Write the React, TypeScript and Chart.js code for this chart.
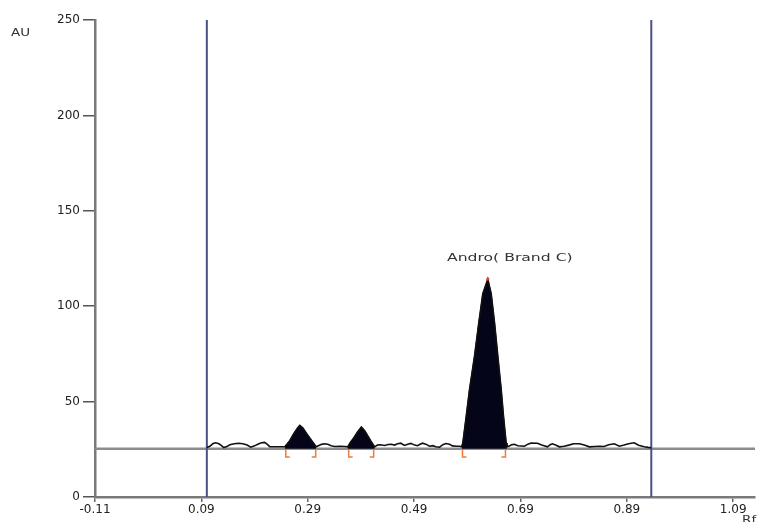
import React, { useEffect, useRef } from "react";
import { Chart, registerables } from "chart.js";

Chart.register(...registerables);

// ---- data ----
const xTickValues = [-0.11, 0.09, 0.29, 0.49, 0.69, 0.89, 1.09];
const xMin = -0.11;
const xMax = 1.131;
const yMin = 0;
const yMax = 250;
const yStep = 50;
const yAxisTitle = "AU";
const xAxisTitle = "Rf";

const baselineAU = 25.3;
const applicationRf = 0.1003;
const solventFrontRf = 0.936;

const traceRf = [
  0.1003, 0.106, 0.112, 0.117, 0.123, 0.1285, 0.132, 0.138, 0.1435, 0.152, 0.16, 0.168, 0.176, 0.183,
  0.19, 0.197, 0.203, 0.209, 0.214, 0.2186, 0.23, 0.24,
  0.2468, 0.2562, 0.2637, 0.2712, 0.275, 0.2806, 0.2881, 0.2975, 0.306,
  0.311, 0.316, 0.322, 0.3276, 0.334, 0.3407, 0.352, 0.3595,
  0.3651, 0.3708, 0.3764, 0.3839, 0.3909, 0.3971, 0.4027, 0.4083, 0.4158,
  0.421, 0.426, 0.4346, 0.441, 0.447, 0.4534, 0.459, 0.465, 0.472, 0.478, 0.484, 0.491, 0.4965,
  0.5003, 0.506, 0.512, 0.519, 0.525, 0.531, 0.538, 0.544, 0.55, 0.5567, 0.562, 0.5695, 0.5754,
  0.5795, 0.5816, 0.588, 0.5942, 0.6036, 0.6117, 0.6192, 0.6286, 0.635, 0.6412, 0.6474, 0.6538,
  0.6581, 0.6631, 0.6645,
  0.669, 0.673, 0.6787, 0.685, 0.6975, 0.704, 0.71, 0.7219, 0.73, 0.7407, 0.746, 0.75, 0.756,
  0.7632, 0.772, 0.781, 0.79, 0.8007, 0.81, 0.8196, 0.8384, 0.847, 0.856, 0.8665, 0.8759, 0.885,
  0.893, 0.904, 0.912, 0.9228, 0.93, 0.936,
];
const traceAU = [
  26.0, 26.6, 28.0, 28.4, 27.9, 26.8, 25.9, 26.4, 27.4, 27.9, 28.2, 27.9, 27.2, 26.1,
  26.8, 27.8, 28.4, 28.6, 27.6, 26.4, 26.3, 26.3,
  26.3, 29.5, 33.2, 36.3, 37.5, 36.3, 33.2, 29.5, 26.3,
  27.0, 27.6, 27.9, 27.6, 26.9, 26.5, 26.6, 26.5,
  26.3, 28.9, 30.9, 34.2, 36.7, 34.7, 32.1, 29.5, 26.3,
  27.2, 27.4, 27.0, 27.5, 27.6, 27.2, 27.9, 28.2, 27.0, 27.6, 28.1, 27.2, 26.9,
  27.5, 28.2, 27.7, 26.6, 26.9, 26.3, 26.1, 27.4, 28.0, 27.6, 26.8, 26.6, 26.6,
  26.3, 28.3, 42.3, 56.3, 73.8, 91.4, 106.5, 114.2, 106.5, 91.4, 73.8, 56.3,
  42.3, 28.3, 26.3,
  26.7, 27.4, 27.6, 26.9, 26.6, 27.7, 28.3, 28.2, 27.2, 26.3, 27.4, 27.9, 27.3,
  26.3, 26.6, 27.2, 27.9, 27.9, 27.2, 26.3, 26.6, 26.5, 27.4, 27.9, 26.6, 27.2,
  27.9, 28.4, 27.1, 26.3, 26.0, 25.8,
];

const peakStartRf = [0.2468, 0.3651, 0.5795];
const peakEndRf = [0.306, 0.4158, 0.6645];
const bracketStartRf = [0.2487, 0.367, 0.581];
const bracketEndRf = [0.305, 0.414, 0.6618];
const peakLabel = "Andro( Brand C)";

// ---- styles ----
const FONT = '"DejaVu Sans", "Liberation Sans", sans-serif';
const bracketDepthAU = 4.3;
const bracketArmRf = 0.0075;

export default function App() {
  const canvasRef = useRef<HTMLCanvasElement | null>(null);

  useEffect(() => {
    document.body.style.margin = "0";
    document.body.style.overflow = "hidden";
    document.documentElement.style.overflow = "hidden";
    const canvas = canvasRef.current;
    if (!canvas) return;

    const trace = traceRf.map((x, i) => ({ x, y: traceAU[i] }));

    const peakSets = peakStartRf.map((s, i) => ({
      type: "line" as const,
      data: trace.filter((p) => p.x >= s - 1e-9 && p.x <= peakEndRf[i] + 1e-9),
      borderColor: "#000",
      borderWidth: 1,
      backgroundColor: "#05051a",
      fill: { value: baselineAU },
      pointRadius: 0,
      tension: 0,
      order: 5,
    }));

    const bracketPts: any[] = [];
    const bottom = baselineAU - bracketDepthAU;
    bracketStartRf.forEach((s) => {
      bracketPts.push({ x: s + bracketArmRf, y: bottom }, { x: s, y: bottom }, { x: s, y: baselineAU - 0.6 }, { x: s, y: null });
    });
    bracketEndRf.forEach((e) => {
      bracketPts.push({ x: e - bracketArmRf, y: bottom }, { x: e, y: bottom }, { x: e, y: baselineAU - 0.6 }, { x: e, y: null });
    });

    let apex = 0;
    traceAU.forEach((v, i) => {
      if (v > traceAU[apex]) apex = i;
    });

    const textPlugin = {
      id: "texts",
      afterDatasetsDraw(chart: any) {
        const ctx = chart.ctx;
        const xs = chart.scales.x;
        const ys = chart.scales.y;
        const px = xs.getPixelForValue(traceRf[apex]);
        const py = ys.getPixelForValue(traceAU[apex]);
        ctx.save();
        ctx.font = `11px ${FONT}`;
        ctx.fillStyle = "#333";
        ctx.textAlign = "center";
        ctx.textBaseline = "middle";
        ctx.translate(px + 22, py - 21);
        ctx.scale(1.42, 1);
        ctx.fillText(peakLabel, 0, 0);
        ctx.restore();

        ctx.save();
        ctx.font = `10px ${FONT}`;
        ctx.fillStyle = "#333";
        ctx.textAlign = "left";
        ctx.textBaseline = "middle";
        ctx.translate(11, 33);
        ctx.scale(1.35, 1);
        ctx.fillText(yAxisTitle, 0, 0);
        ctx.restore();

        ctx.save();
        ctx.font = `10px ${FONT}`;
        ctx.fillStyle = "#333";
        ctx.textAlign = "left";
        ctx.textBaseline = "top";
        ctx.translate(742, 515);
        ctx.scale(1.35, 1);
        ctx.fillText(xAxisTitle, 0, 0);
        ctx.restore();
      },
    };

    const chart = new Chart(canvas, {
      type: "line",
      data: {
        datasets: [
          {
            data: [
              { x: xMin, y: baselineAU },
              { x: xMax, y: baselineAU },
            ],
            borderColor: "#8c8c8c",
            borderWidth: 2.5,
            pointRadius: 0,
            order: 10,
          },
          {
            data: [
              { x: applicationRf, y: yMin },
              { x: applicationRf, y: yMax },
              { x: applicationRf, y: null },
              { x: solventFrontRf, y: yMin },
              { x: solventFrontRf, y: yMax },
            ],
            borderColor: "#4c5089",
            borderWidth: 2,
            pointRadius: 0,
            spanGaps: false,
            order: 9,
          },
          ...peakSets,
          {
            data: trace,
            borderColor: "#111",
            borderWidth: 1.6,
            pointRadius: 0,
            tension: 0,
            fill: false,
            order: 3,
          },
          {
            data: bracketPts,
            borderColor: "#f27a3a",
            borderWidth: 1.5,
            pointRadius: 0,
            spanGaps: false,
            order: 2,
          },
          {
            data: [{ x: traceRf[apex], y: traceAU[apex] }],
            showLine: false,
            pointRadius: 1.6,
            pointBackgroundColor: "#e53b2f",
            pointBorderWidth: 0,
            order: 1,
          },
        ] as any,
      },
      options: {
        animation: false,
        responsive: false,
        devicePixelRatio: 1,
        layout: { padding: { top: 20, right: 0, bottom: 0, left: 0 } },
        plugins: { legend: { display: false }, tooltip: { enabled: false } },
        scales: {
          x: {
            type: "linear",
            min: xMin,
            max: xMax,
            afterBuildTicks: (scale: any) => {
              scale.ticks = xTickValues.map((v) => ({ value: v }));
            },
            afterFit: (scale: any) => {
              scale.height = 25;
              scale.paddingRight = 0;
              scale.paddingLeft = 0;
            },
            ticks: {
              autoSkip: false,
              maxRotation: 0,
              padding: 1,
              color: "#222",
              font: { family: FONT, size: 12 },
              callback: (v: any) => Number(v).toFixed(2),
            },
            grid: { drawOnChartArea: false, drawTicks: true, tickLength: 5, color: "#666", lineWidth: 1.5 },
            border: { display: true, color: "#7a7a7a", width: 2.5 },
          },
          y: {
            type: "linear",
            min: yMin,
            max: yMax,
            afterFit: (scale: any) => {
              scale.width = 95;
              scale.paddingRight = 0;
              scale.paddingLeft = 0;
            },
            ticks: {
              stepSize: yStep,
              padding: 3,
              color: "#222",
              font: { family: FONT, size: 12 },
            },
            grid: { drawOnChartArea: false, drawTicks: true, tickLength: 12, color: "#555", lineWidth: 1.5 },
            border: { display: true, color: "#7a7a7a", width: 2.5 },
          },
        },
      },
      plugins: [textPlugin],
    });

    return () => chart.destroy();
  }, []);

  return (
    <div style={{ width: 759, height: 522, position: "relative", background: "#fff", overflow: "hidden" }}>
      <canvas ref={canvasRef} width={759} height={522} style={{ display: "block", width: 759, height: 522 }} />
    </div>
  );
}
